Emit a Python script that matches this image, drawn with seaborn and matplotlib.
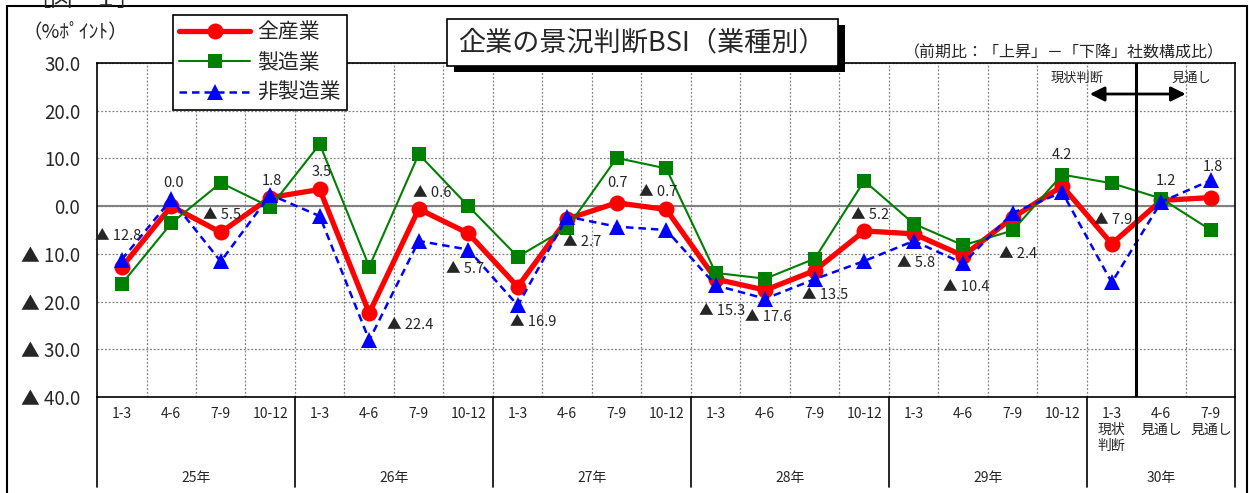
import matplotlib.pyplot as plt
import matplotlib.patches as mpatches
from matplotlib.lines import Line2D
import seaborn as sns
import pandas as pd

# data
years = ['25年', '26年', '27年', '28年', '29年', '30年']
year_len = [4, 4, 4, 4, 4, 3]
quarters = ['1-3', '4-6', '7-9', '10-12'] * 5 + ['1-3\n現状\n判断', '4-6\n見通し', '7-9\n見通し']
zen = [-12.8, 0.0, -5.5, 1.8, 3.5, -22.4, -0.6, -5.7, -16.9, -2.7, 0.7, -0.7,
       -15.3, -17.6, -13.5, -5.2, -5.8, -10.4, -2.4, 4.2, -7.9, 1.2, 1.8]
sei = [-16.3, -3.6, 4.9, -0.2, 13.0, -12.7, 10.9, 0.0, -10.6, -4.5, 10.1, 7.9,
       -14.0, -15.2, -11.0, 5.3, -3.7, -8.2, -5.1, 6.6, 4.8, 1.6, -5.0]
hisei = [-11.2, 1.4, -11.6, 2.4, -2.1, -28.1, -7.3, -9.1, -20.8, -2.2, -4.3, -5.0,
         -16.6, -19.4, -15.3, -11.5, -7.3, -12.0, -1.4, 2.9, -16.0, 0.9, 5.4]
yticks = [30, 20, 10, 0, -10, -20, -30, -40]

# label offsets in pixels (dx, dy up) for 全産業 values
lab_off = [(-4, 31), (2, 23), (1, 17), (2, 17), (2, 17), (41, -12), (13, 16), (-3, -36),
           (15, -35), (15, -23), (1, 20), (-8, 17), (6, -32), (3, -27), (10, -24), (6, 16),
           (2, -29), (3, -31), (5, -36), (0, 31), (1, 24), (5, 19), (2, 31)]

sns.set_style('white')
plt.rcParams['font.family'] = ['Noto Sans CJK JP', 'DejaVu Sans']

W, H = 1249, 493
def fx(p):
    return p / W
def fy(p):
    return 1 - p / H

fig = plt.figure(figsize=(W / 100, H / 100), dpi=100)
ax = fig.add_axes([fx(97), fy(397), fx(1235.5) - fx(97), fy(63) - fy(397)])

idx = list(range(len(zen)))
df = pd.DataFrame({'x': idx, '全産業': zen, '製造業': sei, '非製造業': hisei})

sns.lineplot(data=df, x='x', y='全産業', ax=ax, color='#ff0000', lw=3.8, marker='o',
             markersize=11.5, markeredgewidth=0, zorder=3)
sns.lineplot(data=df, x='x', y='製造業', ax=ax, color='#008000', lw=1.5, marker='s',
             markersize=10.5, markeredgewidth=0, zorder=4)
sns.lineplot(data=df, x='x', y='非製造業', ax=ax, color='#0000ff', lw=1.8, marker='^',
             markersize=11, markeredgewidth=0, linestyle=(0, (3, 2)), zorder=5)

for i, v in enumerate(zen):
    txt = f'▲ {abs(v):.1f}' if v < 0 else f'{v:.1f}'
    ax.annotate(txt, (i, v), xytext=lab_off[i], textcoords='offset pixels',
                ha='center', va='center', fontsize=10.5, zorder=6)

ax.set_xlim(-0.5, len(zen) - 0.5)
ax.set_ylim(-40, 30)
ax.set_xlabel('')
ax.set_ylabel('')
ax.set_yticks(yticks)
ax.set_yticklabels([f'▲ {abs(t):.1f}' if t < 0 else f'{t:.1f}' for t in yticks], fontsize=13.5)
ax.set_xticks(idx)
ax.set_xticklabels(quarters, fontsize=10, linespacing=1.2)
ax.set_xticks([i + 0.5 for i in idx[:-1]], minor=True)
ax.tick_params(axis='both', which='both', length=0)
ax.tick_params(axis='y', pad=12)
ax.tick_params(axis='x', pad=7)

ax.grid(True, which='minor', axis='x', color='#808080', lw=0.9, ls=(0, (1.5, 1.5)))
ax.grid(True, which='major', axis='y', color='#808080', lw=0.9, ls=(0, (1.5, 1.5)))
ax.grid(False, which='major', axis='x')
ax.axhline(0, color='#808080', lw=1.5, zorder=1)
for s in ax.spines.values():
    s.set_color('black')
    s.set_linewidth(1.2)

# 現状判断 / 見通し divider
ax.axvline(20.5, color='black', lw=2.2, zorder=7)
ax.annotate('', xy=(19.5, 23.5), xytext=(21.55, 23.5),
            arrowprops=dict(arrowstyle='<|-|>', color='black', lw=2, mutation_scale=22))
ax.text(19.3, 26.8, '現状判断', ha='center', va='center', fontsize=9.5)
ax.text(21.6, 26.8, '見通し', ha='center', va='center', fontsize=9.5)

# year groups under the axis
tr = ax.get_xaxis_transform()
pos = -0.5
ax.plot([pos, pos], [0, -0.27], color='black', lw=1.2, transform=tr, clip_on=False)
for yl, n in zip(years, year_len):
    ax.text(pos + n / 2, -0.2425, yl, transform=tr, ha='center', va='center', fontsize=10)
    pos += n
    ax.plot([pos, pos], [0, -0.27], color='black', lw=1.2, transform=tr, clip_on=False)

# titles and boxes
fig.patches.append(mpatches.Rectangle((fx(7), fy(520)), fx(1247) - fx(7), fy(6) - fy(520),
                                      transform=fig.transFigure, fill=False, ec='black', lw=1.5))
fig.patches.append(mpatches.Rectangle((fx(454), fy(72)), fx(845) - fx(454), fy(25) - fy(72),
                                      transform=fig.transFigure, fc='black', ec='black', lw=0))
fig.patches.append(mpatches.Rectangle((fx(447), fy(66)), fx(838) - fx(447), fy(19) - fy(66),
                                      transform=fig.transFigure, fc='white', ec='black', lw=1.2))
fig.text(fx(642), fy(43), '企業の景況判断BSI（業種別）', ha='center', va='center', fontsize=19.5)
fig.text(fx(1224), fy(53), '（前期比：「上昇」－「下降」社数構成比）', ha='right', va='center',
         fontsize=11.5)
fig.text(fx(22), fy(33), '（%ﾎﾟｲﾝﾄ）', ha='left', va='center', fontsize=14)
fig.text(fx(28), 1.0, '［図－１］', ha='left', va='center', fontsize=16)

handles = [
    Line2D([], [], color='#ff0000', lw=3.8, marker='o', markersize=11.5, markeredgewidth=0),
    Line2D([], [], color='#008000', lw=1.5, marker='s', markersize=10.5, markeredgewidth=0),
    Line2D([], [], color='#0000ff', lw=1.8, marker='^', markersize=11, markeredgewidth=0,
           linestyle=(0, (3, 2))),
]
leg = fig.legend(handles, ['全産業', '製造業', '非製造業'], loc='upper left',
                 bbox_to_anchor=(fx(173), fy(15)), bbox_transform=fig.transFigure,
                 frameon=True, fancybox=False, edgecolor='black', framealpha=1,
                 fontsize=15, handlelength=3.4, handletextpad=0.35, labelspacing=0.4,
                 borderpad=0.3, borderaxespad=0)
leg.get_frame().set_linewidth(1.2)

fig.savefig('out.png', dpi=100)
